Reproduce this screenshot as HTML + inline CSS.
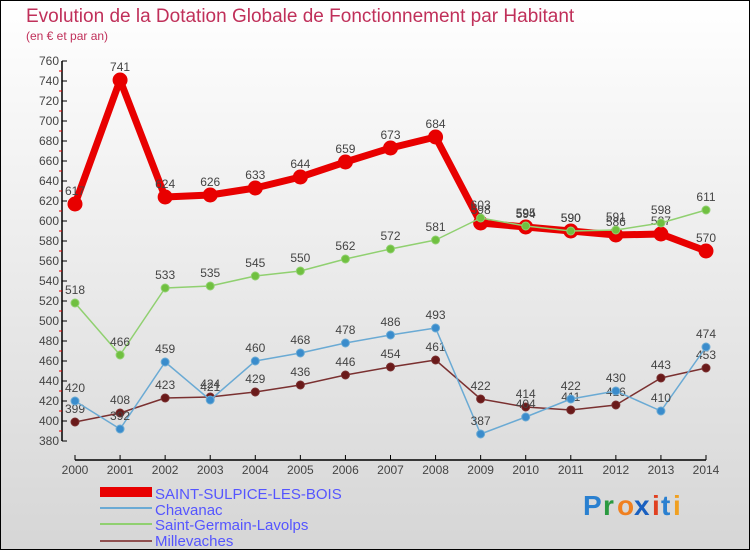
<!DOCTYPE html>
<html><head><meta charset="utf-8"><style>
body{margin:0;width:750px;height:550px;overflow:hidden;font-family:"Liberation Sans",sans-serif}
svg text{font-family:"Liberation Sans",sans-serif}
</style></head><body>
<svg width="750" height="550">
<defs><linearGradient id="bg" x1="0" y1="0" x2="0" y2="1"><stop offset="0" stop-color="#ffffff"/><stop offset="1" stop-color="#d6d6d6"/></linearGradient></defs>
<rect x="0.5" y="0.5" width="749" height="549" fill="url(#bg)" stroke="#000"/>
<text x="26" y="22" font-size="19" fill="#c0305a">Evolution de la Dotation Globale de Fonctionnement par Habitant</text>
<text x="26" y="40" font-size="12" fill="#c0305a">(en € et par an)</text>
<g id="axes"></g>
<g id="series"></g>
<g id="legend" font-size="15" fill="#5555ff">
<rect x="100" y="487" width="52" height="10" fill="#e80000"/>
<text x="155" y="499">SAINT-SULPICE-LES-BOIS</text>
<line x1="100" y1="508" x2="152" y2="508" stroke="#6aaad4" stroke-width="2"/>
<text x="155" y="515">Chavanac</text>
<line x1="100" y1="524" x2="152" y2="524" stroke="#90d070" stroke-width="2"/>
<text x="155" y="530">Saint-Germain-Lavolps</text>
<line x1="100" y1="541" x2="152" y2="541" stroke="#905050" stroke-width="2"/>
<text x="155" y="546">Millevaches</text>
</g>
<g font-size="28" font-weight="bold" font-family="Liberation Sans">
<text x="583" y="515" fill="#2a80d0">P</text><text x="603" y="515" fill="#2a9a40">r</text><text x="617" y="515" fill="#f08020">o</text><text x="634" y="515" fill="#1a60c0">x</text><text x="652" y="515" fill="#e04020">i</text><text x="661" y="515" fill="#2a80d0">t</text><text x="673" y="515" fill="#f0a020">i</text>
</g>
</svg>
<script>
const years=[2000,2001,2002,2003,2004,2005,2006,2007,2008,2009,2010,2011,2012,2013,2014];
const ssb=[617,741,624,626,633,644,659,673,684,598,594,590,586,587,570];
const chavanac=[420,392,459,421,460,468,478,486,493,387,404,422,430,410,474];
const germain=[518,466,533,535,545,550,562,572,581,603,595,590,591,598,611];
const millevaches=[399,408,423,424,429,436,446,454,461,422,414,411,416,443,453];
const yTicks=[380,400,420,440,460,480,500,520,540,560,580,600,620,640,660,680,700,720,740,760];
const NS="http://www.w3.org/2000/svg";
const X=i=>75+i*(706-75)/14;
const Y=v=>61+(760-v)*1.0;
function mk(tag,attrs,parent){const e=document.createElementNS(NS,tag);for(const k in attrs)e.setAttribute(k,attrs[k]);parent.appendChild(e);return e;}
const ax=document.getElementById('axes');
let a=mk('line',{x1:62,y1:Y(760),x2:62,y2:Y(380),stroke:'#000','stroke-width':1.5},ax);


let b=mk('line',{x1:X(0),y1:460,x2:X(14),y2:460,stroke:'#000','stroke-width':1.5},ax);


yTicks.forEach(v=>{
 mk('line',{x1:62,y1:Y(v),x2:67,y2:Y(v),stroke:'#000'},ax);
 if(v>380) mk('line',{x1:59,y1:Y(v)+10,x2:62,y2:Y(v)+10,stroke:'#e00000'},ax);
 const t=mk('text',{x:59,y:Y(v)+4,'text-anchor':'end','font-size':12,fill:'#444'},ax);t.textContent=v;
 
 
});
years.forEach((yr,i)=>{
 mk('line',{x1:X(i),y1:455,x2:X(i),y2:460,stroke:'#000'},ax);
 const t=mk('text',{x:X(i),y:474,'text-anchor':'middle','font-size':12,fill:'#444'},ax);t.textContent=yr;
 
 
});
const sg=document.getElementById('series');
function draw(vals,color,w,r,name,dot){
 const g=mk('g',{},sg);
 
 
 const p=mk('polyline',{points:vals.map((v,i)=>X(i)+','+Y(v)).join(' '),fill:'none',stroke:color,'stroke-width':w,'stroke-linejoin':'round'},g);
 
 
 vals.forEach((v,i)=>{
  const c=mk('circle',{cx:X(i),cy:Y(v),r:r,fill:dot,stroke:color,'stroke-width':1},g);
  
  
  const t=mk('text',{x:X(i),y:Y(v)-9,'text-anchor':'middle','font-size':12,fill:'#444'},g);t.textContent=v;
  
  
 });
}
draw(millevaches,'#7a3030',1.5,4,'millevaches-series','#6a1a1a');
draw(chavanac,'#6aaad4',1.5,4,'chavanac-series','#3a8ccc');
draw(ssb,'#e80000',7,7,'saint-sulpice-series','#e80000');
draw(germain,'#90d070',1.5,4,'saint-germain-series','#70c040');
</script>
</body></html>
